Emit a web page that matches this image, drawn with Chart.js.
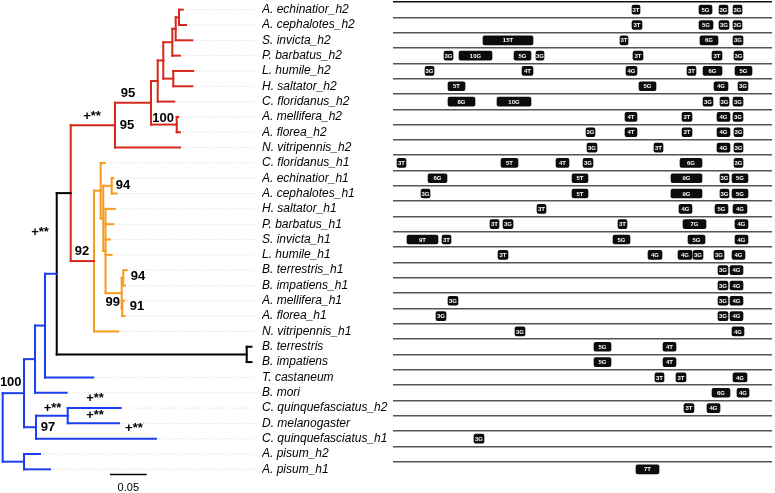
<!DOCTYPE html>
<html><head><meta charset="utf-8">
<script src="https://cdn.jsdelivr.net/npm/chart.js@4.4.0/dist/chart.umd.min.js"></script>
<style>
html,body{margin:0;padding:0;background:#fff;overflow:hidden;}
#wrap{position:relative;width:775px;height:493px;}
canvas{position:absolute;left:0;top:0;}
#tree{pointer-events:none;}
</style></head><body>
<div id="wrap"><canvas id="genes" width="775" height="493"></canvas><canvas id="tree" width="775" height="493"></canvas></div>
<script>
// ---- taxa (tree tips, top to bottom) ----
const taxa = ['A. echinatior_h2','A. cephalotes_h2','S. invicta_h2','P. barbatus_h2','L. humile_h2','H. saltator_h2','C. floridanus_h2','A. mellifera_h2','A. florea_h2','N. vitripennis_h2',
 'C. floridanus_h1','A. echinatior_h1','A. cephalotes_h1','H. saltator_h1','P. barbatus_h1','S. invicta_h1','L. humile_h1','B. terrestris_h1','B. impatiens_h1','A. mellifera_h1','A. florea_h1','N. vitripennis_h1',
 'B. terrestris','B. impatiens','T. castaneum','B. mori','C. quinquefasciatus_h2','D. melanogaster','C. quinquefasciatus_h1','A. pisum_h2','A. pisum_h1'];
// parent node of each tip and its distance from the root (substitutions/site)
const tipParent = ['EC','EC','I','P','HS','HS','A','MF2','MF2','H2',
 'O2','EC1','EC1','O4','O4','O4','O4','TI','TI','MF1','MF1','O',
 'BT','BT','N45','N35','CD','CD','N36','PI','PI'];
const tipDepth = [0.2456,0.2501,0.2587,0.2419,0.2600,0.2587,0.2341,0.2396,0.2419,0.2419,
 0.1396,0.1509,0.1555,0.1532,0.1509,0.1464,0.1487,0.1692,0.1669,0.1655,0.1662,0.1577,
 0.3394,0.3394,0.1236,0.0873,0.1610,0.1587,0.2091,0.0509,0.0645];
// internal nodes
const nodeIds    = ['root','N24','PI','N35','N36','CD','N45','K','BT','R0','H2','U','A','ANTS','P','I','EC','HS','MF2','O','O2','O3','EC1','O4','B1','TI','MF1'];
const nodeParent = [null,'root','root','N24','N24','N36','N35','N45','K','K','R0','H2','U','A','ANTS','P','I','ANTS','U','R0','O','O2','O3','O3','O4','B1','B1'];
const nodeDepth  = [0,0.0291,0.0291,0.0441,0.0454,0.0887,0.0577,0.0737,0.3329,0.0928,0.1532,0.2023,0.2115,0.2191,0.2314,0.2360,0.2405,0.2327,0.2374,0.1246,0.1337,0.1372,0.1487,0.1403,0.1623,0.1645,0.1632];
const nodeClade  = ['out','out','out','out','out','out','out','bt','bt','h2','h2','h2','h2','h2','h2','h2','h2','h2','h2','h1','h1','h1','h1','h1','h1','h1','h1'];
// support values
const supportAt   = ['U','H2','H2','MF2','K','O','EC1','TI','B1','MF1','N24','CD','N36','C. quinquefasciatus_h2','D. melanogaster','C. quinquefasciatus_h1'];
const supportText = ['95','95','+**','100','+**','92','94','94','99','91','100','+**','97','+**','+**','+**'];
const scaleBarLength = 0.05;
// gene structure blocks: [taxon row, start, end, label]
const blocks = [
 [0,239,247,'3T'],[0,306,319,'5G'],[0,326,335,'3G'],[0,340,349,'3G'],
 [1,239,249,'3T'],[1,306,320,'5G'],[1,326,336,'3G'],[1,340,349,'3G'],
 [2,90,140,'15T'],[2,227,235,'3T'],[2,307,325,'6G'],[2,340,350,'3G'],
 [3,51,60,'3G'],[3,66,99,'10G'],[3,121,138,'5G'],[3,143,151,'3G'],[3,240,250,'3T'],[3,319,329,'3T'],[3,341,350,'3G'],
 [4,32,41,'3G'],[4,129,140,'4T'],[4,233,244,'4G'],[4,294,303,'3T'],[4,310,329,'6G'],[4,342,359,'5G'],
 [5,55,72,'5T'],[5,246,263,'5G'],[5,321,335,'4G'],[5,345,355,'3G'],
 [6,55,82,'8G'],[6,104,138,'10G'],[6,310,320,'3G'],[6,327,336,'3G'],[6,340,350,'3G'],
 [7,232,244,'4T'],[7,289,299,'3T'],[7,324,337,'4G'],[7,340,350,'3G'],
 [8,193,202,'3G'],[8,232,244,'4T'],[8,289,299,'3T'],[8,324,337,'4G'],[8,341,350,'3G'],
 [9,194,204,'3G'],[9,261,270,'3T'],[9,324,337,'4G'],[9,341,350,'3G'],
 [10,4,13,'3T'],[10,108,125,'5T'],[10,163,176,'4T'],[10,190,200,'3G'],[10,287,309,'6G'],[10,341,350,'3G'],
 [11,35,54,'6G'],[11,179,195,'5T'],[11,278,309,'9G'],[11,327,336,'3G'],[11,339,355,'5G'],
 [12,28,37,'3G'],[12,179,195,'5T'],[12,278,309,'9G'],[12,327,336,'3G'],[12,339,355,'5G'],
 [13,144,153,'3T'],[13,286,299,'4G'],[13,322,335,'5G'],[13,340,354,'4G'],
 [14,97,106,'3T'],[14,110,120,'3G'],[14,225,234,'3T'],[14,290,313,'7G'],[14,342,355,'4G'],
 [15,14,45,'9T'],[15,49,58,'3T'],[15,220,237,'5G'],[15,295,312,'5G'],[15,342,355,'4G'],
 [16,105,115,'3T'],[16,255,269,'4G'],[16,285,299,'4G'],[16,300,310,'3G'],[16,321,331,'3G'],[16,339,352,'4G'],
 [17,325,335,'3G'],[17,337,350,'4G'],
 [18,325,335,'3G'],[18,337,350,'4G'],
 [19,55,65,'3G'],[19,325,335,'3G'],[19,337,350,'4G'],
 [20,43,53,'3G'],[20,325,335,'3G'],[20,337,350,'4G'],
 [21,122,132,'3G'],[21,339,351,'4G'],
 [22,201,218,'5G'],[22,270,283,'4T'],
 [23,201,218,'5G'],[23,270,283,'4T'],
 [24,262,271,'3T'],[24,283,293,'3T'],[24,340,354,'4G'],
 [25,319,337,'6G'],[25,344,356,'4G'],
 [26,291,301,'3T'],[26,314,327,'4G'],
 [28,81,91,'3G'],
 [30,243,266,'7T']
];
const alignmentLength = 379;

// ---- styles ----
const cladeColor = {out:'#1b3ef0', bt:'#000000', h2:'#d7281c', h1:'#f79a1f'};
const supportOffset = [[-23,-9.5],[12,0],[-23,-9],[-13.7,-6.3],[-16.7,-41.8],[-12,-10],[11.3,0],[14.7,-1.6],[-9,9.5],[14.7,-2.3],[-13.3,-11],[-15.2,-7.7],[12,0],[-25.7,-10],[-24,-8.3],[-22,-10.6]];
const FONT = '"Liberation Sans", Arial, sans-serif';

// ---- gene structure chart ----
const boxLabels = {id:'boxLabels', afterDatasetsDraw(chart){
  const ctx = chart.ctx, meta = chart.getDatasetMeta(0);
  ctx.save(); ctx.fillStyle = '#fff'; ctx.font = 'bold 6px ' + FONT;
  ctx.textAlign = 'center'; ctx.textBaseline = 'middle';
  meta.data.forEach((el, i) => ctx.fillText(blocks[i][3], (el.x + el.base) / 2, el.y + 0.5));
  ctx.restore();
}};
const geneChart = new Chart(document.getElementById('genes'), {
  type: 'bar',
  data: {labels: taxa, datasets: [{
    data: blocks.map(b => ({y: taxa[b[0]], x: [b[1], b[2]]})),
    backgroundColor: '#0c0c0c', borderWidth: 0, borderRadius: 2, borderSkipped: false,
    barThickness: 9, grouped: false
  }]},
  options: {
    indexAxis: 'y', responsive: false, animation: false, devicePixelRatio: 1, events: [],
    layout: {padding: {left: 262, right: 3, top: 2, bottom: 16}},
    plugins: {legend: {display: false}, tooltip: {enabled: false}},
    scales: {
      x: {type: 'linear', min: 0, max: alignmentLength, display: false},
      y: {type: 'category', offset: true,
        grid: {offset: true, drawTicks: false, lineWidth: 1.5,
               color: c => (c.type !== 'tick') ? 'rgba(0,0,0,0)' : (c.index === 0 ? '#111' : '#555')},
        border: {display: false},
        ticks: {autoSkip: false, crossAlign: 'far', padding: 0, color: '#000',
                font: {family: FONT, size: 12, style: 'italic'}},
        afterFit(s){ s.width = 131; s.paddingTop = 0; s.paddingBottom = 0; }
      }
    }
  },
  plugins: [boxLabels]
});

// ---- tree ----
const nodeIndex = Object.fromEntries(nodeIds.map((id, i) => [id, i]));
const children = nodeIds.map(() => []);
nodeParent.forEach((p, i) => { if (p) children[nodeIndex[p]].push({t: 'n', i}); });
tipParent.forEach((p, i) => children[nodeIndex[p]].push({t: 't', i}));
const nodeY = [];
function nodeRow(i){
  if (nodeY[i] === undefined) { const ys = children[i].map(yOf); nodeY[i] = (Math.min(...ys) + Math.max(...ys)) / 2; }
  return nodeY[i];
}
function yOf(c){ return c.t === 't' ? c.i : nodeRow(c.i); }
function xOf(c){ return c.t === 't' ? tipDepth[c.i] : nodeDepth[c.i]; }

const ys = geneChart.scales.y;
const p0 = ys.getPixelForValue(0), rowPx = ys.getPixelForValue(1) - p0;
const H = 493, W = 775;
const rootPx = 2.7, pxPerUnit = 733;
const X_MIN = -rootPx / pxPerUnit, X_MAX = X_MIN + W / pxPerUnit;
const Y_MIN = -p0 / rowPx, Y_MAX = (H - p0) / rowPx;
const LEADER_END = (255 - rootPx) / pxPerUnit;
const SB_X = (110 - rootPx) / pxPerUnit, SB_ROW = 30.33;

const treeSets = [];
const seg = (pts, color, extra) => treeSets.push(Object.assign({data: pts, showLine: true, borderColor: color, borderWidth: 2,
  pointRadius: 0, tension: 0, fill: false, borderCapStyle: 'square'}, extra || {}));
taxa.forEach((t, i) => { if (LEADER_END - tipDepth[i] > 0.003)
  seg([{x: tipDepth[i] + 0.004, y: i}, {x: LEADER_END, y: i}], '#d4d4d4', {borderWidth: 1, borderDash: [1, 2], borderCapStyle: 'butt'}); });
nodeIds.forEach((id, i) => {
  const col = cladeColor[nodeClade[i]];
  const cy = children[i].map(yOf);
  seg([{x: nodeDepth[i], y: Math.min(...cy)}, {x: nodeDepth[i], y: Math.max(...cy)}], col);
  children[i].forEach(c => seg([{x: nodeDepth[i], y: yOf(c)}, {x: xOf(c), y: yOf(c)}], col));
});
seg([{x: SB_X, y: SB_ROW}, {x: SB_X + scaleBarLength, y: SB_ROW}], '#000', {borderWidth: 1.5, borderCapStyle: 'butt'});

const treeText = {id: 'treeText', afterDatasetsDraw(chart){
  const {ctx, scales: {x, y}} = chart;
  ctx.save(); ctx.fillStyle = '#000'; ctx.textAlign = 'center'; ctx.textBaseline = 'middle';
  ctx.font = 'bold 13px ' + FONT;
  supportAt.forEach((ref, k) => {
    let px, py;
    if (ref in nodeIndex) { const i = nodeIndex[ref]; px = x.getPixelForValue(nodeDepth[i]); py = y.getPixelForValue(nodeRow(i)); }
    else { const i = taxa.indexOf(ref); px = x.getPixelForValue(tipDepth[i]); py = y.getPixelForValue(i); }
    ctx.fillText(supportText[k], px + supportOffset[k][0], py + supportOffset[k][1]);
  });
  ctx.font = '11px ' + FONT;
  ctx.fillText(scaleBarLength.toFixed(2), x.getPixelForValue(SB_X + scaleBarLength / 2), y.getPixelForValue(SB_ROW) + 14);
  ctx.restore();
}};
new Chart(document.getElementById('tree'), {
  type: 'scatter',
  data: {datasets: treeSets},
  options: {
    responsive: false, animation: false, devicePixelRatio: 1, events: [],
    layout: {padding: 0},
    plugins: {legend: {display: false}, tooltip: {enabled: false}},
    scales: {
      x: {type: 'linear', display: false, min: X_MIN, max: X_MAX},
      y: {type: 'linear', display: false, reverse: true, min: Y_MIN, max: Y_MAX}
    }
  },
  plugins: [treeText]
});
</script></body></html>
